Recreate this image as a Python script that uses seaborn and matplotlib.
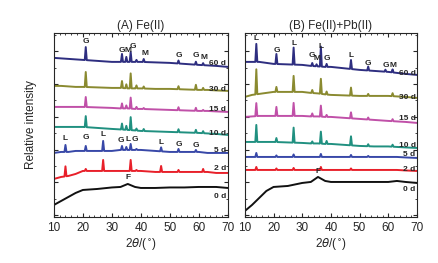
import numpy as np
import pandas as pd
import seaborn as sns
import matplotlib.pyplot as plt
from matplotlib.ticker import MultipleLocator, FixedLocator

# baseline grid (2theta) and peak positions shared by all patterns
grid_x = [10, 12.5, 15, 17.5, 20, 25, 30, 33, 35.5, 38, 40, 45, 50, 55, 60, 63, 66, 70]
peak_x = [14.0, 21.0, 27.0, 33.5, 35.0, 36.5, 38.5, 41.0, 47.0, 53.0, 59.0, 61.5]
days = ['0 d', '2 d', '5 d', '10 d', '15 d', '30 d', '60 d']
day_colors = ['#111111', '#e8202a', '#3848a8', '#209080', '#c050a8', '#8a8a30', '#2e2e80']

# (A) Fe(II) - baselines (offset stacked) and peak heights
a_base = {
    '0 d': [12, 16, 20, 24, 27, 28, 29.5, 30, 33, 30, 29, 29, 29.5, 29.5, 30, 30, 30, 29],
    '2 d': [38, 40, 41, 43, 46, 46, 46, 46, 46, 46, 46, 45, 45, 45, 45, 45, 44, 44],
    '5 d': [64, 65, 65, 66, 66, 66, 66, 67, 67, 67, 67, 66, 65, 65, 65, 64, 64, 64],
    '10 d': [90, 90, 90, 90, 90, 89, 88, 87.5, 87, 86.5, 86, 85.5, 85, 84.5, 84, 83.5, 83, 82],
    '15 d': [110, 110, 110, 110, 110, 109.5, 109, 108.5, 108.5, 108, 108, 107.5, 107, 106.5, 106, 106, 105.5, 105],
    '30 d': [131, 131, 130.5, 130, 130, 129.5, 129, 129, 128.5, 128.5, 128.5, 128, 128, 127.5, 127, 127, 126.5, 126],
    '60 d': [159, 158.5, 158, 157.5, 157, 156, 155, 155, 155, 155, 155, 154.5, 154, 153, 152, 151.5, 151, 150],
}
a_peaks = {
    '0 d': [0, 0, 0, 0, 0, 0, 0, 0, 0, 0, 0, 0],
    '2 d': [10, 2, 11, 0, 0, 11, 1, 0, 6, 2, 0, 3],
    '5 d': [7, 5, 10, 4, 3, 6, 1, 0, 4, 3, 2, 0],
    '10 d': [0, 11, 0, 6, 4, 13, 2, 2, 0, 3, 3, 2],
    '15 d': [0, 10, 0, 5, 3, 11, 2, 1, 0, 3, 3, 1],
    '30 d': [0, 15, 0, 7, 4, 15, 3, 2, 0, 3, 5, 2],
    '60 d': [0, 13, 0, 8, 5, 10, 2, 3, 0, 3, 3, 2],
}

# (B) Fe(II)+Pb(II)
b_base = {
    '0 d': [6, 12, 19, 26, 30, 31, 34, 35, 40, 36, 35, 35, 35, 35, 35, 36, 35, 34],
    '2 d': [47, 47, 47, 47, 47, 47, 47, 47, 47, 47, 47, 47, 47, 47, 47, 47, 46.5, 46],
    '5 d': [60, 60, 60, 60, 60, 60, 60, 60, 60, 60, 60, 60, 60, 60, 60, 60, 59.5, 59],
    '10 d': [75, 75, 75, 75, 75, 74.5, 74, 73.5, 73.5, 73, 73, 72, 71, 70.5, 70.5, 70, 69.5, 69],
    '15 d': [100, 100.5, 101, 101, 101, 101, 101, 100.5, 100.5, 100, 100, 99, 98, 97, 96, 95.5, 95, 94],
    '30 d': [120, 122, 123, 124, 125, 125, 125, 124, 123.5, 122.5, 122, 121.5, 121, 121, 121, 120.5, 120, 119],
    '60 d': [155, 155, 155, 154, 153, 152.5, 152, 151, 150.5, 150, 150, 148.5, 147, 146, 145, 144, 143, 142],
}
b_peaks = {
    '0 d': [0, 0, 0, 0, 0, 0, 0, 0, 0, 0, 0, 0],
    '2 d': [3, 1.5, 2, 0, 0, 3, 0, 0, 1.5, 0, 0, 0],
    '5 d': [4, 1.5, 2.5, 0, 0, 3, 0, 0, 2, 1, 0, 0],
    '10 d': [17, 4, 15, 2, 0, 12, 3, 0, 9, 2, 0, 2],
    '15 d': [13, 9, 13, 3, 0, 11, 2, 0, 6, 2, 0, 2],
    '30 d': [25, 5, 16, 3, 0, 15, 3, 0, 8, 2, 0, 3],
    '60 d': [18, 10, 17, 3, 2, 20, 3, 0, 9, 4, 2, 3],
}

# phase labels (text, 2theta, height)
a_phase = [('G', 21, 172), ('G', 33.3, 163), ('M', 35.4, 163), ('G', 37.2, 167), ('M', 41.5, 160),
           ('G', 53, 158), ('G', 59, 158), ('M', 61.9, 156),
           ('L', 14, 75), ('G', 21, 76), ('L', 27, 79), ('G', 33, 73), ('L', 35.6, 74), ('G', 37.8, 74),
           ('L', 47, 71), ('G', 53, 69), ('G', 59, 68), ('F', 35.5, 36)]
b_phase = [('L', 14, 175), ('G', 21, 163), ('L', 27, 170), ('G', 33.3, 158), ('M', 35.2, 155),
           ('L', 36.5, 167), ('G', 38.7, 155), ('L', 47, 158), ('G', 53, 150), ('G', 59, 148),
           ('M', 61.7, 148), ('F', 35.5, 42)]
a_day_y = [20, 48, 66, 83, 107, 127, 153]
b_day_y = [27, 47, 62, 71, 98, 119, 143]


def build(base, peaks, w=0.35):
    rows = []
    for d in days:
        xs = list(grid_x)
        ys = list(base[d])
        for p, h in zip(peak_x, peaks[d]):
            if h <= 0:
                continue
            for dx, add in ((-w, 0), (0, h), (w, 0)):
                xs.append(p + dx)
                ys.append(np.interp(p + dx, grid_x, base[d]) + add)
        order = np.argsort(xs)
        for i in order:
            rows.append({'two_theta': xs[i], 'intensity': ys[i], 'day': d})
    return pd.DataFrame(rows)


sns.set_style('ticks')
plt.rcParams['font.family'] = ['Liberation Sans', 'DejaVu Sans']
plt.rcParams['mathtext.fontset'] = 'dejavusans'

fig = plt.figure(figsize=(4.38, 2.63), dpi=100)
ax1 = fig.add_axes([0.123, 0.175, 0.397, 0.70])
ax2 = fig.add_axes([0.559, 0.175, 0.393, 0.70])
palette = dict(zip(days, day_colors))

panels = [(ax1, a_base, a_peaks, a_phase, a_day_y, '(A) Fe(II)'),
          (ax2, b_base, b_peaks, b_phase, b_day_y, '(B) Fe(II)+Pb(II)')]
for ax, base, peaks, phase, day_y, title in panels:
    df = build(base, peaks)
    sns.lineplot(df, x='two_theta', y='intensity', hue='day', palette=palette,
                 estimator=None, sort=False, legend=False, linewidth=1.4, ax=ax)
    for txt, x, y in phase:
        ax.text(x, y, txt, fontsize=6, fontweight='bold', ha='center', va='bottom')
    for d, y in zip(days, day_y):
        ax.text(69.5, y, d, fontsize=6, fontweight='bold', ha='right', va='center')
    ax.set_xlim(10, 70)
    ax.set_ylim(0, 184)
    ax.xaxis.set_major_locator(MultipleLocator(10))
    ax.xaxis.set_minor_locator(MultipleLocator(2))
    ax.yaxis.set_major_locator(FixedLocator([2 + 32.7 * k for k in range(6)]))
    ax.yaxis.set_minor_locator(FixedLocator([18.35 + 32.7 * k for k in range(6)]))
    ax.tick_params(which='both', direction='in', top=True, right=True, labelsize=8.5, pad=3.5)
    ax.tick_params(which='major', length=3, width=0.8)
    ax.tick_params(which='minor', length=1.5, width=0.6)
    ax.set_yticklabels([])
    ax.set_xlabel(r'2$\theta$/($^{\circ}$)', fontsize=8.5, labelpad=2)
    ax.set_ylabel('')
    ax.set_title(title, fontsize=8.5, pad=3)
    for s in ax.spines.values():
        s.set_linewidth(0.8)

ax1.set_ylabel('Relative intensity', fontsize=8.5, labelpad=9)

plt.savefig('out.png', dpi=100)
plt.close()
